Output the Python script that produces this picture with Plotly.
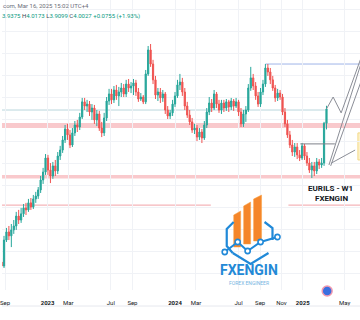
import plotly.graph_objects as go
import pandas as pd

# ---------------- data (EURILS weekly) ----------------
week_start = "2022-08-22"
open_ = [3.307,3.289,3.407,3.444,3.426,3.453,3.471,3.516,3.498,3.526,
         3.553,3.544,3.576,3.557,3.594,3.607,3.635,3.680,3.716,3.780,
         3.725,3.698,3.744,3.721,3.789,3.816,3.862,3.912,3.885,3.839,
         3.894,3.930,3.921,3.966,4.035,4.016,4.025,3.989,4.007,3.953,
         3.980,3.916,3.894,3.962,4.039,4.071,4.044,4.089,4.062,4.080,
         4.098,4.071,4.116,4.098,4.107,4.121,4.080,4.048,4.057,4.035,
         4.162,4.271,4.207,4.135,4.066,4.080,4.053,4.071,3.998,3.971,
         3.985,4.025,4.062,4.112,4.125,4.080,4.016,3.975,3.944,3.907,
         3.916,3.875,3.898,3.871,3.930,3.989,4.030,4.007,4.071,4.025,
         3.998,4.030,4.007,4.035,4.012,4.039,4.016,4.035,3.989,3.935,
         3.980,3.998,4.098,4.144,4.107,4.062,4.025,4.080,4.116,4.189,
         4.171,4.135,4.098,4.053,4.075,4.057,3.989,3.935,3.885,3.839,
         3.807,3.830,3.794,3.780,3.835,3.789,3.757,3.725,3.744,3.721,
         3.762,3.748,3.757,3.9375]
high = [3.326,3.426,3.462,3.471,3.480,3.498,3.535,3.544,3.553,3.571,
        3.576,3.594,3.598,3.612,3.626,3.648,3.698,3.735,3.798,3.794,
        3.757,3.762,3.771,3.807,3.835,3.880,3.930,3.935,3.907,3.916,
        3.948,3.953,3.985,4.053,4.053,4.044,4.039,4.025,4.021,3.998,
        3.994,3.944,3.985,4.057,4.094,4.094,4.107,4.112,4.103,4.121,
        4.116,4.135,4.139,4.125,4.139,4.135,4.098,4.075,4.066,4.180,
        4.289,4.298,4.226,4.153,4.098,4.098,4.089,4.080,4.016,3.998,
        4.044,4.080,4.135,4.162,4.144,4.098,4.035,3.998,3.962,3.935,
        3.930,3.916,3.912,3.948,4.007,4.057,4.048,4.089,4.080,4.044,
        4.044,4.044,4.048,4.044,4.053,4.048,4.053,4.044,4.007,3.998,
        4.016,4.116,4.194,4.162,4.125,4.080,4.098,4.135,4.207,4.207,
        4.189,4.153,4.112,4.094,4.089,4.071,4.007,3.953,3.903,3.862,
        3.848,3.848,3.816,3.848,3.844,3.807,3.780,3.762,3.762,3.780,
        3.775,3.780,3.944,4.0173]
low = [3.271,3.280,3.398,3.407,3.375,3.435,3.453,3.480,3.485,3.512,
       3.521,3.535,3.544,3.548,3.576,3.594,3.621,3.662,3.703,3.703,
       3.666,3.685,3.698,3.707,3.771,3.803,3.848,3.862,3.825,3.830,
       3.880,3.898,3.907,3.957,3.998,3.989,3.971,3.953,3.935,3.925,
       3.903,3.875,3.880,3.948,4.021,4.025,4.030,4.044,4.016,4.057,
       4.057,4.057,4.080,4.075,4.066,4.062,4.035,4.039,4.025,4.025,
       4.153,4.194,4.116,4.048,4.039,4.030,4.035,3.980,3.957,3.957,
       3.971,4.012,4.053,4.089,4.062,3.998,3.962,3.930,3.894,3.889,
       3.857,3.862,3.848,3.862,3.916,3.975,3.989,3.998,4.007,3.985,
       3.980,3.989,3.994,3.989,3.998,3.994,4.007,3.971,3.921,3.921,
       3.944,3.989,4.085,4.089,4.044,4.012,4.012,4.066,4.103,4.153,
       4.116,4.085,4.035,4.039,4.044,3.975,3.921,3.871,3.825,3.789,
       3.785,3.775,3.766,3.771,3.771,3.744,3.712,3.689,3.698,3.707,
       3.730,3.735,3.744,3.9099]
close = [3.289,3.407,3.444,3.426,3.453,3.471,3.516,3.498,3.526,3.553,
         3.544,3.576,3.557,3.594,3.607,3.635,3.680,3.716,3.780,3.725,
         3.698,3.744,3.721,3.789,3.816,3.862,3.912,3.885,3.839,3.894,
         3.930,3.921,3.966,4.035,4.016,4.025,3.989,4.007,3.953,3.980,
         3.916,3.894,3.962,4.039,4.071,4.044,4.089,4.062,4.080,4.098,
         4.071,4.116,4.098,4.107,4.121,4.080,4.048,4.057,4.035,4.162,
         4.271,4.207,4.135,4.066,4.080,4.053,4.071,3.998,3.971,3.985,
         4.025,4.062,4.112,4.125,4.080,4.016,3.975,3.944,3.907,3.916,
         3.875,3.898,3.871,3.930,3.989,4.030,4.007,4.071,4.025,3.998,
         4.030,4.007,4.035,4.012,4.039,4.016,4.035,3.989,3.935,3.980,
         3.998,4.098,4.144,4.107,4.062,4.025,4.080,4.116,4.189,4.171,
         4.135,4.098,4.053,4.075,4.057,3.989,3.935,3.885,3.839,3.807,
         3.830,3.794,3.780,3.835,3.789,3.757,3.725,3.744,3.721,3.762,
         3.748,3.757,3.9375,4.0027]

tick_dates = ["2022-09-01", "2023-01-01", "2023-03-01", "2023-07-01", "2023-09-01",
              "2024-01-01", "2024-03-01", "2024-07-01", "2024-09-01", "2024-11-01",
              "2025-01-01", "2025-05-01"]
tick_labels = ["Sep", "<b>2023</b>", "Mar", "Jul", "Sep", "<b>2024</b>", "Mar", "Jul",
               "Sep", "Nov", "<b>2025</b>", "May"]

# drawn levels
resistance_band = [3.916, 3.939]
support_band = [3.687, 3.703]
lower_level = 3.566
top_level = 4.207
mid_level = 3.998
prior_high_level = 3.844

# projected path drawings
zigzag_dates = ["2025-03-10", "2025-03-29", "2025-04-21", "2025-06-22"]
zigzag_prices = [4.0027, 4.057, 3.985, 4.257]
diag1_dates = ["2025-03-17", "2025-06-22"]
diag1_prices = [3.748, 4.235]
diag2_dates = ["2025-03-22", "2025-06-22"]
diag2_prices = [3.744, 4.150]
arrow_dates = ["2025-03-24", "2025-05-31"]
arrow_prices = [3.757, 3.816]

dates = pd.date_range(week_start, periods=len(close), freq="7D")

UP = "#26a69a"
DN = "#ef5350"
W, H, PLOT_BOTTOM = 360, 320, 290


def px(x):
    return x / W


def py(y):
    return (PLOT_BOTTOM - y) / PLOT_BOTTOM


fig = go.Figure()

drawing_color = "#8a8d96"
for dx, dy in [(zigzag_dates, zigzag_prices), (diag1_dates, diag1_prices),
               (diag2_dates, diag2_prices), (arrow_dates, arrow_prices)]:
    fig.add_trace(go.Scatter(x=dx, y=dy, mode="lines", line=dict(color=drawing_color, width=1),
                             hoverinfo="skip", showlegend=False))

fig.add_trace(go.Candlestick(
    x=dates, open=open_, high=high, low=low, close=close,
    increasing=dict(line=dict(color=UP, width=1), fillcolor=UP),
    decreasing=dict(line=dict(color=DN, width=1), fillcolor=DN),
    whiskerwidth=0, showlegend=False, hoverinfo="skip"))

shapes = []
# bands
for band in (resistance_band, support_band):
    shapes.append(dict(type="rect", xref="paper", x0=0, x1=1, yref="y", y0=band[0], y1=band[1],
                       fillcolor="#f9c9cc", line=dict(width=0), layer="below"))
# thin lower level (interrupted by logo)
shapes.append(dict(type="line", xref="paper", x0=0, x1=px(210), yref="y", y0=lower_level, y1=lower_level,
                   line=dict(color="#f5b5b9", width=1.2), layer="below"))
shapes.append(dict(type="line", xref="paper", x0=px(288), x1=1, yref="y", y0=lower_level, y1=lower_level,
                   line=dict(color="#f5b5b9", width=1.2), layer="below"))
# top level
shapes.append(dict(type="line", xref="x", x0="2024-09-16", x1="2025-07-01", yref="y", y0=top_level, y1=top_level,
                   line=dict(color="#9fb4e8", width=1), layer="below"))
# mid level
shapes.append(dict(type="line", xref="x", x0="2022-08-01", x1="2025-03-05", yref="y", y0=mid_level, y1=mid_level,
                   line=dict(color="#b9d6dc", width=1), layer="below"))
# prior high level
shapes.append(dict(type="line", xref="x", x0="2024-12-25", x1="2025-04-03", yref="y",
                   y0=prior_high_level, y1=prior_high_level,
                   line=dict(color="#7d8089", width=1), layer="above"))
# yellow box at right edge
shapes.append(dict(type="rect", xref="x", x0="2025-06-08", x1="2025-07-10", yref="y", y0=3.771, y1=3.894,
                   fillcolor="#fdf1c8", line=dict(color="#f3d98a", width=1), layer="below"))

# ---- logo ----
orange = "#f5862a"
orange2 = "#f9a040"
bars = [(233, 240, 247, 215, 211), (243, 250, 244, 206, 202), (253, 261, 241, 199, 195)]
for x0, x1, yb, ytl, ytr in bars:
    path = f"M {px(x0)},{py(yb)} L {px(x1)},{py(yb)} L {px(x1)},{py(ytr)} L {px(x0)},{py(ytl)} Z"
    shapes.append(dict(type="path", xref="paper", yref="paper", path=path, fillcolor=orange,
                       line=dict(color=orange2, width=0.5)))
blue = "#2089d8"
left_br = [(233, 222), (226, 229), (226, 246), (232, 253)]
right_br = [(264, 222), (272, 228), (272, 240)]
vshape = [(232, 253), (250, 264), (268, 253)]
for pts in (left_br, right_br, vshape):
    path = "M " + " L ".join(f"{px(a)},{py(b)}" for a, b in pts)
    shapes.append(dict(type="path", xref="paper", yref="paper", path=path,
                       line=dict(color=blue, width=2.2)))
nodes = [(224, 252), (237, 242), (247, 251), (260, 242), (277, 237)]
path = "M " + " L ".join(f"{px(a)},{py(b)}" for a, b in nodes)
shapes.append(dict(type="path", xref="paper", yref="paper", path=path, line=dict(color=blue, width=2)))
for a, b in nodes:
    shapes.append(dict(type="circle", xref="paper", yref="paper", x0=px(a - 2.6), x1=px(a + 2.6),
                       y0=py(b + 2.6), y1=py(b - 2.6), fillcolor="white", line=dict(color=blue, width=1.6)))

# bottom marker & border
shapes.append(dict(type="circle", xref="paper", yref="paper", x0=px(322), x1=px(332), y0=py(296), y1=py(286),
                   fillcolor="#3a6fe0", line=dict(color="#f19ab0", width=1.5)))
shapes.append(dict(type="line", xref="paper", yref="paper", x0=0, x1=1, y0=py(306), y1=py(306),
                   line=dict(color="#e6e8ee", width=1)))


def label(text, x, y, size, color, xanchor="center", family=None):
    f = dict(size=size, color=color)
    if family:
        f["family"] = family
    return dict(text=text, x=px(x), y=py(y), xref="paper", yref="paper", xanchor=xanchor,
                yanchor="middle", showarrow=False, font=f, borderpad=0)


annotations = [
    label("com, Mar 16, 2025 15:02 UTC+4", 0, 5, 6, "#6a6d78", xanchor="left"),
    label(("<span style='color:#089981'>3.9375</span> H<span style='color:#089981'>4.0173</span> "
           "L<span style='color:#089981'>3.9099</span> C<span style='color:#089981'>4.0027</span> "
           "<span style='color:#089981'>+0.0755 (+1.93%)</span>"), -1, 16, 6, "#434651", xanchor="left"),
    label("<b>EURILS - W1</b>", 330, 188, 8, "#131722"),
    label("<b>FXENGIN</b>", 331, 199, 8, "#131722"),
    label("<b>FXENGIN</b>", 248.5, 269.5, 14, "#2389d6", family="Roboto"),
    label("FOREX ENGINEER", 248.5, 282.5, 5, "#77b5e2", family="Roboto"),
]

fig.update_layout(
    width=W, height=H, margin=dict(l=0, r=0, t=0, b=H - PLOT_BOTTOM),
    paper_bgcolor="white", plot_bgcolor="white",
    font=dict(family="Roboto", color="#131722"),
    shapes=shapes, annotations=annotations,
    xaxis=dict(type="date", range=["2022-08-23 06:00", "2025-06-14"], rangeslider=dict(visible=False),
               tickvals=tick_dates, ticktext=tick_labels, tickfont=dict(size=6, color="#131722"),
               showgrid=True, gridcolor="#f0f2f6", gridwidth=1, zeroline=False, showline=False,
               ticks="", ticklabelstandoff=8, ticklabeloverflow="allow"),
    yaxis=dict(range=[3.180, 4.498], showticklabels=False, showgrid=True, gridcolor="#f0f2f6",
               dtick=0.1, tick0=4.457, zeroline=False, showline=False),
)

fig.write_html("out.html")
